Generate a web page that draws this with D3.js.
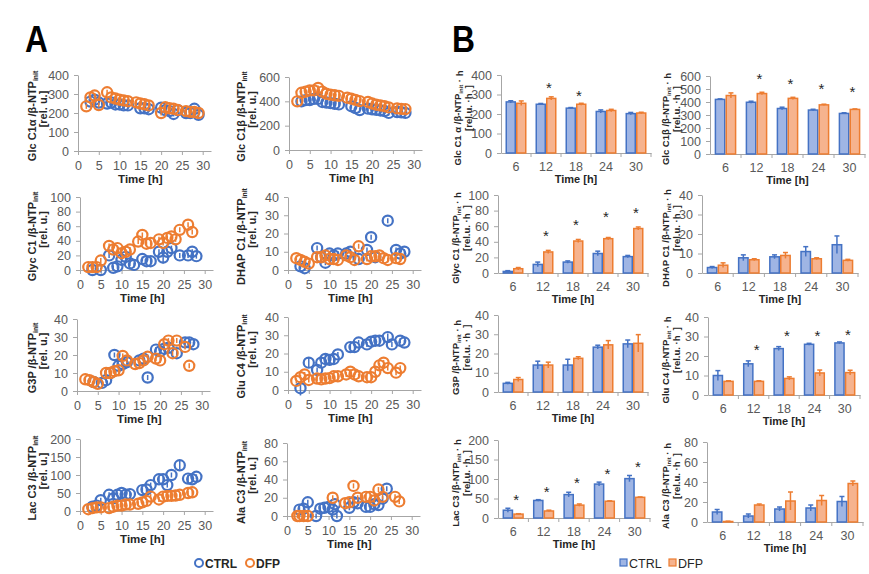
<!DOCTYPE html>
<html><head><meta charset="utf-8">
<script src="https://cdn.jsdelivr.net/npm/d3@7"></script>
<style>body{margin:0;background:#fff} svg{font-family:"Liberation Sans",Arial,sans-serif}</style>
</head><body><svg id="c" width="869" height="574"></svg>
<script>
// ---------- DATA ----------
const timeTicks = [0,5,10,15,20,25,30];
const categories = ["6","12","18","24","30"];
const seriesNames = ["CTRL","DFP"];

// Panel A: [time (h), value, sd]
const glcA_ctrl = [[3,260],[4,270],[5,255],[7,250],[8,255],[9,245],[10,245],[11,240],[12,240],[15,225],[16,225],[17,220],[20,228],[21,215],[22,210],[23,195],[24,215],[26,200],[27,200],[28,222],[29,190]];
const glcA_dfp  = [[2,235],[3,282],[4,292],[5,242],[7,309],[8,282],[9,276],[10,270],[11,266],[12,262],[14,256],[15,250],[16,246],[17,240],[20,200],[21,230],[22,225],[23,222],[24,216],[26,210],[27,206],[28,205],[29,200]];
const glcB_ctrl = [[3,400],[4,410],[5,410],[6,420],[7,420],[8,395],[9,390],[10,385],[11,380],[12,375],[15,360],[16,345],[17,328],[19,340],[20,335],[21,330],[22,325],[23,320],[24,305],[26,312],[27,310],[28,305]];
const glcB_dfp  = [[2,400],[3,470],[4,480],[5,490],[6,490],[7,510],[8,480],[9,462],[10,455],[11,450],[12,445],[14,430],[15,422],[16,412],[17,402],[19,395],[20,382],[21,372],[22,366],[23,360],[24,350],[26,342],[27,338],[28,336]];
const glyc_ctrl = [[3,0],[5,0],[7,20],[8,3],[9,5],[10,14],[11,18],[12,9],[13,7],[15,15],[16,12],[17,12],[19,25],[20,17,8],[21,25],[22,30],[24,20],[26,20],[27,25],[28,19]];
const glyc_dfp  = [[2,4],[3,4],[4,4],[5,13],[7,33],[8,28],[9,30],[10,23],[11,25],[12,28],[14,39],[15,48],[16,36],[17,37],[19,42],[20,37],[21,44],[22,46],[23,42],[24,55],[26,62],[27,52]];
const dhap_ctrl = [[3,2],[4,1],[7,12],[8,7],[9,4],[10,9],[11,8],[12,9],[14,9],[15,10],[17,6],[19,11],[20,18],[21,7],[24,27],[26,11],[27,9],[28,10]];
const dhap_dfp  = [[2,6.5],[3,5.5],[4,4.5],[5,3.5],[7,7],[8,7],[9,8],[10,6],[11,6],[12,5.5],[14,8],[15,7],[16,5.5,1.5],[17,13],[19,6],[20,7.5],[21,7.5],[22,8],[23,6.5],[24,5.5],[26,6.5],[27,6]];
const g3p_ctrl  = [[4,5],[6,4.5],[7,6],[8,10],[9,20],[10,14],[11,15],[12,16],[15,17],[16,18],[17,7.5],[19,23],[20,22],[21,23.5],[22,24],[24,21],[26,27],[27,27],[28,26]];
const g3p_dfp   = [[2,6.5],[3,6],[4,5],[5,4],[7,10],[8,10],[9,11],[10,11.5],[11,19.5],[12,17],[14,15],[15,15.5],[16,17],[17,19],[19,18],[20,17],[21,26],[22,28],[23,21],[24,28],[26,24.5],[27,14]];
const glu_ctrl  = [[3,1,4],[5,15,3],[7,11],[8,15,3],[9,17,3],[10,16.5,3],[11,17,2],[12,19.5],[15,23.5],[16,23.5],[17,26],[19,25],[20,26.5],[21,27],[22,27],[24,29,2],[25,25],[27,27],[28,26]];
const glu_dfp   = [[2,5],[3,7],[4,8.5],[5,5.5],[7,6.3],[8,5.8],[9,6.3],[10,6.5],[11,7.5],[12,7.5],[14,8.5],[15,10],[16,8.5],[17,7.5],[19,7],[20,7],[21,10],[22,13.5],[23,15],[24,12],[26,9.5],[27,12]];
const lac_ctrl  = [[3,12],[4,15],[5,30],[7,45],[8,35],[9,45],[10,50],[11,45],[12,47],[15,58],[16,60],[17,72],[19,88],[20,88],[21,72],[22,100],[24,127,12],[26,90,10],[27,88],[28,95]];
const lac_dfp   = [[2,5],[3,8],[4,10],[5,10],[7,8],[8,12],[9,15],[10,15],[11,18],[12,18],[14,20],[15,24],[16,28],[17,40],[19,32],[20,40],[21,42],[22,42],[23,43],[24,45],[26,50],[27,52]];
const ala_ctrl  = [[3,7],[4,8],[5,15],[7,0],[8,8],[9,9],[10,10],[11,7],[11.5,13],[12,0],[15,9],[16,15],[17,14],[19,10],[20,10],[21,13],[22,12],[23,19],[24,30]];
const ala_dfp   = [[2.5,0],[3,0],[4,0],[5,0],[11,20],[14,14],[15,15],[16,33],[17,20],[19,21],[20,21],[21,17],[22,29],[23,21],[26,21],[27,16]];

// Panel B: cumulative values at 6..30 h
const bGlcA_ctrl = [262,250,230,213,202], bGlcA_ctrlErr = [6,4,3,8,6];
const bGlcA_dfp  = [255,280,250,218,205], bGlcA_dfpErr  = [12,8,5,6,4];
const bGlcA_star = [null,349,309,null,null];
const bGlcB_ctrl = [420,398,350,338,312], bGlcB_ctrlErr = [4,8,10,6,5];
const bGlcB_dfp  = [450,465,428,378,343], bGlcB_dfpErr  = [20,10,8,5,4];
const bGlcB_star = [null,600,564,525,500];
const bGlyc_ctrl = [2,11,14,25,21], bGlyc_ctrlErr = [1,3,1.5,3,1.5];
const bGlyc_dfp  = [5.5,27,41,44,57], bGlyc_dfpErr = [1.5,2,2,1.5,2];
const bGlyc_star = [null,51.5,65.5,75.7,81];
const bDhap_ctrl = [2.8,7.8,8.3,11,14.5], bDhap_ctrlErr = [0.5,1.5,1,2.5,4.5];
const bDhap_dfp  = [4,6.8,9,7.3,6.5], bDhap_dfpErr = [1.2,0.5,1.5,0.5,0.5];
const bDhap_star = [null,null,null,null,null];
const bG3p_ctrl = [4.5,14,14,23.3,25], bG3p_ctrlErr = [0.5,2,3,1,2];
const bG3p_dfp  = [6.5,14,17.5,24.5,25.3], bG3p_dfpErr = [1,1.5,0.8,2.2,4.5];
const bG3p_star = [null,null,null,null,null];
const bGlu_ctrl = [10,16,23.8,26,26.7], bGlu_ctrlErr = [2.5,1.5,1,0.5,0.5];
const bGlu_dfp  = [7,7,8.5,11.3,11.5], bGlu_dfpErr = [0.3,0.3,0.8,1.5,1.2];
const bGlu_star = [null,24.6,31.8,31.8,32.3];
const bLac_ctrl = [20,45,60,87,101], bLac_ctrlErr = [5,2,6,5,8];
const bLac_dfp  = [10,18,33,43,53], bLac_dfpErr = [1,2,3,1,1];
const bLac_star = [55,74,98,121,138];
const bAla_ctrl = [10,6,13,14,20.5], bAla_ctrlErr = [2.5,2,2,3,5];
const bAla_dfp  = [0.5,17,21,21.5,38.5], bAla_dfpErr = [0.3,1,9,5,2.5];
const bAla_star = [null,null,null,null,null];

// ---------- STYLE / LAYOUT ----------
const BLUE = "#4472C4", ORANGE = "#ED7D31";
const BLUE_FILL = "#9fb5e4", ORANGE_FILL = "#f6b38e";
const AXIS = "#a6a6a6", TICKTXT = "#595959", TITLE = "#262626";
const svg = d3.select("#c");

const panelsA = [
  {name:"Glc C1α", ctrl:glcA_ctrl, dfp:glcA_dfp, yMax:400, yStep:100, x0:78, top:75, bottom:151, lx:[36,47]},
  {name:"Glc C1β", ctrl:glcB_ctrl, dfp:glcB_dfp, yMax:600, yStep:200, x0:289, top:77, bottom:150, lx:[245,256]},
  {name:"Glyc C1", ctrl:glyc_ctrl, dfp:glyc_dfp, yMax:100, yStep:20, x0:80, top:197, bottom:270, lx:[36,47]},
  {name:"DHAP C1", ctrl:dhap_ctrl, dfp:dhap_dfp, yMax:40, yStep:10, x0:288, top:197, bottom:270, lx:[245,256]},
  {name:"G3P", ctrl:g3p_ctrl, dfp:g3p_dfp, yMax:40, yStep:10, x0:77, top:319, bottom:391, lx:[36,47]},
  {name:"Glu C4", ctrl:glu_ctrl, dfp:glu_dfp, yMax:40, yStep:10, x0:288, top:317, bottom:390, lx:[245,256]},
  {name:"Lac C3", ctrl:lac_ctrl, dfp:lac_dfp, yMax:200, yStep:50, x0:80, top:439, bottom:511, lx:[36,47]},
  {name:"Ala C3", ctrl:ala_ctrl, dfp:ala_dfp, yMax:80, yStep:20, x0:287, top:443, bottom:516, lx:[245,256]}
];
const panelsB = [
  {name:"Glc C1 α", ctrl:bGlcA_ctrl, ce:bGlcA_ctrlErr, dfp:bGlcA_dfp, de:bGlcA_dfpErr, star:bGlcA_star, yMax:400, yStep:100, x0:501, w:150, top:75, bottom:153, lx:[461,472]},
  {name:"Glc C1β", ctrl:bGlcB_ctrl, ce:bGlcB_ctrlErr, dfp:bGlcB_dfp, de:bGlcB_dfpErr, star:bGlcB_star, yMax:600, yStep:100, x0:710, w:155, top:76, bottom:154, lx:[669,680]},
  {name:"Glyc C1", ctrl:bGlyc_ctrl, ce:bGlyc_ctrlErr, dfp:bGlyc_dfp, de:bGlyc_dfpErr, star:bGlyc_star, yMax:100, yStep:20, x0:498, w:150, top:195, bottom:273, lx:[459,470]},
  {name:"DHAP C1", ctrl:bDhap_ctrl, ce:bDhap_ctrlErr, dfp:bDhap_dfp, de:bDhap_dfpErr, star:bDhap_star, yMax:40, yStep:10, x0:702, w:156, top:195, bottom:273, lx:[669,680]},
  {name:"G3P", ctrl:bG3p_ctrl, ce:bG3p_ctrlErr, dfp:bG3p_dfp, de:bG3p_dfpErr, star:bG3p_star, yMax:40, yStep:10, x0:498, w:150, top:315, bottom:392, lx:[459,470]},
  {name:"Glu C4", ctrl:bGlu_ctrl, ce:bGlu_ctrlErr, dfp:bGlu_dfp, de:bGlu_dfpErr, star:bGlu_star, yMax:40, yStep:10, x0:708, w:152, top:317, bottom:395, lx:[669,680]},
  {name:"Lac C3", ctrl:bLac_ctrl, ce:bLac_ctrlErr, dfp:bLac_dfp, de:bLac_dfpErr, star:bLac_star, yMax:200, yStep:50, x0:498, w:152, top:440, bottom:518, lx:[459,470]},
  {name:"Ala C3", ctrl:bAla_ctrl, ce:bAla_ctrlErr, dfp:bAla_dfp, de:bAla_dfpErr, star:bAla_star, yMax:80, yStep:20, x0:707, w:156, top:442, bottom:522, lx:[669,680]}
];

function styleAxis(g){
  g.select(".domain").attr("stroke",AXIS).attr("stroke-width",1);
  g.selectAll(".tick line").attr("stroke",AXIS);
  g.selectAll(".tick text").attr("fill",TICKTXT).attr("font-size",12.5);
}
function rotLabel(cx, cy, parts, size){
  const t = svg.append("text").attr("transform",`translate(${cx},${cy}) rotate(-90)`)
    .attr("text-anchor","middle").attr("font-weight","bold").attr("font-size",size).attr("fill",TITLE)
    .style("white-space","pre");
  parts.forEach(p=>{
    if (typeof p === "string") t.append("tspan").text(p);
    else { t.append("tspan").attr("font-size",size*0.62).attr("dy",size*0.22).text(p.sub);
           t.append("tspan").attr("dy",-size*0.22).text(""); }
  });
}

// ---------- PANEL A ----------
panelsA.forEach(p=>{
  const x = d3.scaleLinear().domain([0,32]).range([p.x0, p.x0+133]);
  const y = d3.scaleLinear().domain([0,p.yMax]).range([p.bottom, p.top]);
  const ya = svg.append("g").attr("transform",`translate(${p.x0},0)`)
    .call(d3.axisLeft(y).tickValues(d3.range(0,p.yMax+1e-9,p.yStep)).tickSize(4).tickSizeOuter(0).tickPadding(5));
  styleAxis(ya);
  const xa = svg.append("g").attr("transform",`translate(0,${p.bottom})`)
    .call(d3.axisBottom(x).tickValues(timeTicks).tickSize(4).tickSizeOuter(0).tickPadding(6));
  styleAxis(xa);
  svg.append("text").attr("x",x(15)).attr("y",p.bottom+32).attr("text-anchor","middle")
    .attr("font-weight","bold").attr("font-size",11.5).attr("fill",TITLE).text("Time [h]");
  const mid = (p.top+p.bottom)/2;
  rotLabel(p.lx[0], mid+3, [p.name+" /β-NTP",{sub:"init"}], 11);
  rotLabel(p.lx[1], mid-4, ["[rel. u.]"], 11);
  [[p.ctrl,BLUE],[p.dfp,ORANGE]].forEach(([data,col])=>{
    const g = svg.append("g");
    data.forEach(d=>{
      const cx = x(d[0]), cy = y(d[1]);
      const e = d[2] ? Math.abs(y(0)-y(d[2])) : 0;
      const h = Math.max(e, 2.5);
      g.append("line").attr("x1",cx).attr("x2",cx).attr("y1",cy-h).attr("y2",cy+h)
        .attr("stroke",col).attr("stroke-width",1.5);
      g.append("circle").attr("cx",cx).attr("cy",cy).attr("r",5.1)
        .attr("fill","none").attr("stroke",col).attr("stroke-width",2.2);
    });
  });
});

// ---------- PANEL B ----------
panelsB.forEach(p=>{
  const x = d3.scaleBand().domain(categories).range([p.x0, p.x0+p.w]).paddingInner(0.3).paddingOuter(0.15);
  const xs = d3.scaleBand().domain(seriesNames).range([0, x.bandwidth()]);
  const y = d3.scaleLinear().domain([0,p.yMax]).range([p.bottom, p.top]);
  const ya = svg.append("g").attr("transform",`translate(${p.x0},0)`)
    .call(d3.axisLeft(y).tickValues(d3.range(0,p.yMax+1e-9,p.yStep)).tickSize(4).tickSizeOuter(0).tickPadding(5));
  styleAxis(ya);
  const xa = svg.append("g").attr("transform",`translate(0,${p.bottom})`)
    .call(d3.axisBottom(x).tickSize(0).tickSizeOuter(0).tickPadding(9));
  styleAxis(xa);
  const step = x.step();
  d3.range(1,categories.length+1).forEach(i=>{
    svg.append("line").attr("x1",p.x0+i*step).attr("x2",p.x0+i*step).attr("y1",p.bottom).attr("y2",p.bottom+4).attr("stroke",AXIS);
  });
  svg.append("text").attr("x",p.x0+p.w/2).attr("y",p.bottom+30).attr("text-anchor","middle")
    .attr("font-weight","bold").attr("font-size",11).attr("fill",TITLE).text("Time [h]");
  const mid = (p.top+p.bottom)/2;
  rotLabel(p.lx[0], mid+4, [p.name+" /β-NTP",{sub:"init"}," · h"], 9.5);
  rotLabel(p.lx[1], mid-6, ["[rel.u. ·h  ]"], 9.5);
  [[p.ctrl,p.ce,"CTRL",BLUE,BLUE_FILL],[p.dfp,p.de,"DFP",ORANGE,ORANGE_FILL]].forEach(([vals,errs,s,col,fill])=>{
    const g = svg.append("g");
    vals.forEach((v,i)=>{
      const bx = x(categories[i]) + xs(s), bw = xs.bandwidth();
      g.append("rect").attr("x",bx+0.75).attr("y",y(v)).attr("width",bw-1.5).attr("height",y(0)-y(v))
        .attr("fill",fill).attr("stroke",col).attr("stroke-width",1.5);
      const cx = bx + bw/2, y1 = y(v+errs[i]), y2 = y(Math.max(0,v-errs[i]));
      g.append("line").attr("x1",cx).attr("x2",cx).attr("y1",y1).attr("y2",y2).attr("stroke",col).attr("stroke-width",1.5);
      g.append("line").attr("x1",cx-2.5).attr("x2",cx+2.5).attr("y1",y1).attr("y2",y1).attr("stroke",col).attr("stroke-width",1.5);
    });
  });
  p.star.forEach((sv,i)=>{
    if (sv==null) return;
    svg.append("text").attr("x",x(categories[i])+x.bandwidth()/2+3).attr("y",y(sv)+8)
      .attr("text-anchor","middle").attr("font-size",15).attr("fill",TITLE).text("*");
  });
});

// ---------- PANEL LETTERS ----------
svg.append("text").attr("transform","translate(25,52) scale(0.86,1)").attr("font-size",37).attr("font-weight","bold").attr("fill","#000").text("A");
svg.append("text").attr("transform","translate(452,52) scale(0.86,1)").attr("font-size",37).attr("font-weight","bold").attr("fill","#000").text("B");

// ---------- LEGENDS ----------
const legA = [[seriesNames[0],BLUE,199],[seriesNames[1],ORANGE,250]];
legA.forEach(([t,c,lx])=>{
  svg.append("circle").attr("cx",lx).attr("cy",563).attr("r",4).attr("fill","none").attr("stroke",c).attr("stroke-width",2);
  svg.append("text").attr("x",lx+6).attr("y",567.5).attr("font-size",12).attr("font-weight","bold").attr("fill",TITLE).text(t);
});
const legB = [[seriesNames[0],BLUE,BLUE_FILL,620],[seriesNames[1],ORANGE,ORANGE_FILL,669]];
legB.forEach(([t,c,f,lx])=>{
  svg.append("rect").attr("x",lx).attr("y",559).attr("width",7).attr("height",7).attr("fill",f).attr("stroke",c).attr("stroke-width",1.2);
  svg.append("text").attr("x",lx+9).attr("y",567.5).attr("font-size",12.5).attr("fill",TITLE).text(t);
});
</script></body></html>
